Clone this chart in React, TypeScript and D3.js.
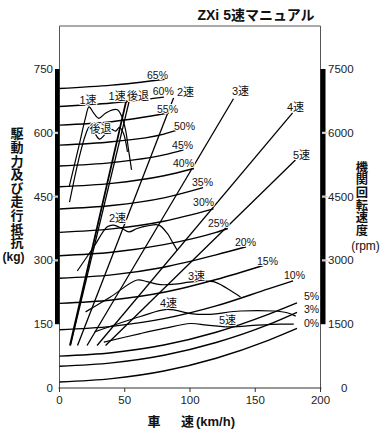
import React from "react";
import * as d3 from "d3";

const W = 380;
const H = 430;

// axis ticks
const speedTicks = [0, 50, 100, 150, 200];
const forceTicks = [0, 150, 300, 450, 600, 750];
const rpmTicks = [0, 1500, 3000, 4500, 6000, 7500];

// running resistance by grade: [km/h, kg]
const grade0 = [[0, 14], [40, 22], [80, 40], [120, 70], [160, 112], [182, 140]];
const grade3 = [[0, 51], [40, 59], [80, 77], [120, 107], [160, 149], [182, 178]];
const grade5 = [[0, 75], [40, 83], [80, 101], [120, 131], [160, 173], [182, 200]];
const grade10 = [[0, 137], [40, 145], [80, 163], [120, 193], [160, 233], [179, 252]];
const grade15 = [[0, 199], [40, 207], [80, 225], [120, 255], [156, 288]];
const grade20 = [[0, 258], [40, 266], [80, 284], [120, 313], [143, 332]];
const grade25 = [[0, 311], [40, 319], [80, 337], [120, 366], [129, 375]];
const grade30 = [[0, 366], [40, 374], [80, 392], [118, 421]];
const grade35 = [[0, 421], [40, 429], [80, 447], [110, 471]];
const grade40 = [[0, 473], [40, 481], [80, 499], [103, 516]];
const grade45 = [[0, 522], [40, 530], [80, 548], [95, 560]];
const grade50 = [[0, 571], [40, 579], [80, 597], [89, 605]];
const grade55 = [[0, 618], [40, 626], [84, 647]];
const grade60 = [[0, 662], [40, 670], [80, 684]];
const grade65 = [[0, 704], [40, 712], [81, 726]];
const gradeCurves = [grade0, grade3, grade5, grade10, grade15, grade20, grade25, grade30,
  grade35, grade40, grade45, grade50, grade55, grade60, grade65];

// grade labels: [text, km/h, kg]
const gradeLabels: [string, number, number][] = [
  ["65%", 75.1, 735], ["60%", 79.5, 699], ["55%", 82.8, 656], ["50%", 95.8, 616],
  ["45%", 94.3, 571], ["40%", 95, 529], ["35%", 109.6, 484], ["30%", 110.4, 437],
  ["25%", 121.8, 388], ["20%", 142.5, 343], ["15%", 159.4, 299], ["10%", 180.1, 265],
  ["5%", 193.1, 216], ["3%", 193.1, 185], ["0%", 193.1, 152],
];

// engine speed per gear: [km/h, rpm]
const rpm1st = [[8.0, 1000], [51.3, 6775]];
const rpmRev = [[8.4, 1000], [54.0, 6820]];
const rpm2nd = [[13.8, 1000], [87.4, 6820]];
const rpm3rd = [[21.1, 1000], [133.3, 6800]];
const rpm4th = [[28.8, 1000], [178.6, 6470]];
const rpm5th = [[35.3, 1000], [180.8, 5360]];

// driving force per gear: [km/h, kg]
const force1st = [[7.4, 473], [14.9, 569], [19.9, 635], [22.6, 661], [26.1, 647], [30.1, 634],
  [35.2, 646], [40.6, 654], [44.4, 654], [47.5, 640], [50.6, 607], [52.9, 560], [55.2, 513]];
const forceRev = [[7.7, 437], [14.6, 536], [19.9, 595], [23, 614], [26.8, 600], [30.7, 585],
  [34.5, 595], [39.1, 609], [42.9, 604], [46, 613], [49, 599], [52.1, 555]];
const force2nd = [[13.6, 275], [26.3, 332], [36.6, 379], [41.6, 383], [48, 375], [53.1, 367],
  [59.5, 375], [67.2, 381], [76.1, 383], [82.5, 364], [86.4, 344], [90.2, 324]];
const force3rd = [[20, 179], [39, 214], [59.5, 254], [67, 250], [77.4, 243], [87.6, 244],
  [103, 250], [118, 250], [128.5, 234], [138.7, 214]];
const force4th = [[27, 132], [62, 168], [82.5, 185], [100.4, 175], [113, 173], [138.7, 181],
  [164, 181], [174.5, 177], [181, 169]];
const force5th = [[34, 108], [62, 128], [80, 140], [100.4, 151.6], [113, 147.6], [131, 143.6],
  [151.5, 147.6], [169.3, 150], [179.5, 150]];
const forceCurves = [force1st, forceRev, force2nd, force3rd, force4th, force5th];

// gear labels: [text, km/h, kg]
const gearLabels: [string, number, number][] = [
  ["1速", 21.8, 678], ["1速", 44.2, 687], ["後退", 60.2, 687], ["2速", 96.6, 696],
  ["3速", 138.7, 699], ["4速", 180.8, 663], ["5速", 185.4, 548], ["後退", 31.4, 611],
  ["2速", 44.4, 400], ["3速", 105, 265], ["4速", 83.5, 202], ["5速", 128.7, 162],
];

const title = "ZXi 5速マニュアル";
const leftTitle = "駆動力及び走行抵抗";
const rightTitle = "機関回転速度";

const FONT = "'Liberation Sans', Arial, 'Noto Sans CJK JP', sans-serif";
const CJK = "'Noto Sans CJK JP', sans-serif";

export default function App() {
  const x = d3.scaleLinear().domain([0, 200]).range([59.5, 320.5]);
  const y = d3.scaleLinear().domain([0, 750]).range([388, 69]);
  const yr = d3.scaleLinear().domain([0, 7500]).range([388, 69]);
  const frameTop = 26;

  const gradeLine = d3.line<number[]>().x(d => x(d[0])).y(d => y(d[1])).curve(d3.curveMonotoneX);
  const forceLine = d3.line<number[]>().x(d => x(d[0])).y(d => y(d[1])).curve(d3.curveCatmullRom.alpha(0.5));
  const rpmLine = d3.line<number[]>().x(d => x(d[0])).y(d => yr(d[1]));

  const x0 = x(0), x1 = x(200);
  const gaps = [600, 450, 300];

  return (
    <svg width={W} height={H} viewBox={`0 0 ${W} ${H}`} style={{ display: "block", position: "absolute", left: 0, top: 0, background: "#fff" }}
      fontFamily={FONT}>
      <rect x={0} y={0} width={W} height={H} fill="#fff" />
      {/* title */}
      <text x={256} y={19.5} textAnchor="middle" fontSize={14} fontWeight="bold" fill="#111">{title}</text>

      {/* frame */}
      <path d={`M${x0},${y(0) + 3}V${frameTop}H${x1}V${y(0) + 3}`} fill="none" stroke="#555" strokeWidth={1} />
      <line x1={x0 - 1} x2={x1 + 1} y1={y(0)} y2={y(0)} stroke="#333" strokeWidth={1} />
      {speedTicks.map(t => (
        <line key={"xt" + t} x1={x(t)} x2={x(t)} y1={y(0)} y2={y(0) + 4} stroke="#333" />
      ))}

      {/* thick bars on axes */}
      <rect x={x0 - 4.5} y={y(750)} width={4.5} height={y(150) - y(750)} fill="#000" />
      <rect x={x1} y={yr(7500)} width={5} height={yr(1500) - yr(7500)} fill="#000" />
      {gaps.map(g => (
        <g key={"gap" + g}>
          <line x1={x0 - 7} x2={x0 - 1.5} y1={y(g)} y2={y(g)} stroke="#fff" strokeWidth={2} />
          <line x1={x0 - 7} x2={x0 - 1.5} y1={y(g)} y2={y(g)} stroke="#999" strokeWidth={0.6} />
          <line x1={x1 + 1.5} x2={x1 + 7} y1={y(g)} y2={y(g)} stroke="#fff" strokeWidth={2} />
          <line x1={x1 + 1.5} x2={x1 + 7} y1={y(g)} y2={y(g)} stroke="#999" strokeWidth={0.6} />
        </g>
      ))}

      {/* tick labels */}
      {forceTicks.map(t => (
        <text key={"yl" + t} x={53} y={y(t) + 4} textAnchor="end" fontSize={11.5} fill="#222">{t}</text>
      ))}
      {rpmTicks.map(t => (
        <text key={"yr" + t} x={t === 0 ? 341 : 328} y={yr(t) + 4} textAnchor="start" fontSize={11.5} fill="#222">{t}</text>
      ))}
      {speedTicks.map(t => (
        <text key={"xl" + t} x={x(t)} y={404} textAnchor="middle" fontSize={11.5} fill="#222">{t}</text>
      ))}

      {/* axis titles (vertical) */}
      <text x={17} y={127} style={{ writingMode: "vertical-rl" as any }} fontSize={13} fontWeight="bold"
        fontFamily={CJK} letterSpacing={0.6} fill="#111">{leftTitle}</text>
      <text x={13.5} y={261} textAnchor="middle" fontSize={12} fontWeight="bold" fill="#111">(kg)</text>
      <text x={362} y={161} style={{ writingMode: "vertical-rl" as any }} fontSize={12.3} fontWeight="bold"
        fontFamily={CJK} letterSpacing={0.3} fill="#111">{rightTitle}</text>
      <text x={365.5} y={250} textAnchor="middle" fontSize={12} fill="#111">(rpm)</text>
      <text x={154} y={426} textAnchor="middle" fontSize={13} fontWeight="bold"
        fontFamily={CJK} fill="#111">車</text>
      <text x={187.5} y={426} textAnchor="middle" fontSize={13} fontWeight="bold"
        fontFamily={CJK} fill="#111">速</text>
      <text x={196} y={426} textAnchor="start" fontSize={13} fontWeight="bold" fill="#111">(km/h)</text>

      {/* grade resistance curves */}
      {gradeCurves.map((g, i) => (
        <path key={"g" + i} d={gradeLine(g as any) || ""} fill="none" stroke="#000" strokeWidth={1.4} />
      ))}

      {/* engine speed lines */}
      <path d={rpmLine(rpm1st as any) || ""} fill="none" stroke="#000" strokeWidth={1.8} />
      <path d={rpmLine(rpmRev as any) || ""} fill="none" stroke="#000" strokeWidth={1.3} />
      {[rpm2nd, rpm3rd, rpm4th, rpm5th].map((r, i) => (
        <path key={"r" + i} d={rpmLine(r as any) || ""} fill="none" stroke="#000" strokeWidth={1.3} />
      ))}

      {/* driving force curves */}
      {forceCurves.map((f, i) => (
        <path key={"f" + i} d={forceLine(f as any) || ""} fill="none" stroke="#000" strokeWidth={1.2} />
      ))}

      {/* labels */}
      {gradeLabels.map(([t, s, k], i) => (
        <text key={"gl" + i} x={x(s)} y={y(k) + 4} textAnchor="middle" fontSize={10.5} fill="#111"
          stroke="#fff" strokeWidth={2} paintOrder="stroke">{t}</text>
      ))}
      {gearLabels.map(([t, s, k], i) => (
        <text key={"el" + i} x={x(s)} y={y(k) + 4.5} textAnchor="middle" fontSize={11} fill="#111"
          stroke="#fff" strokeWidth={2} paintOrder="stroke">{t}</text>
      ))}
    </svg>
  );
}
